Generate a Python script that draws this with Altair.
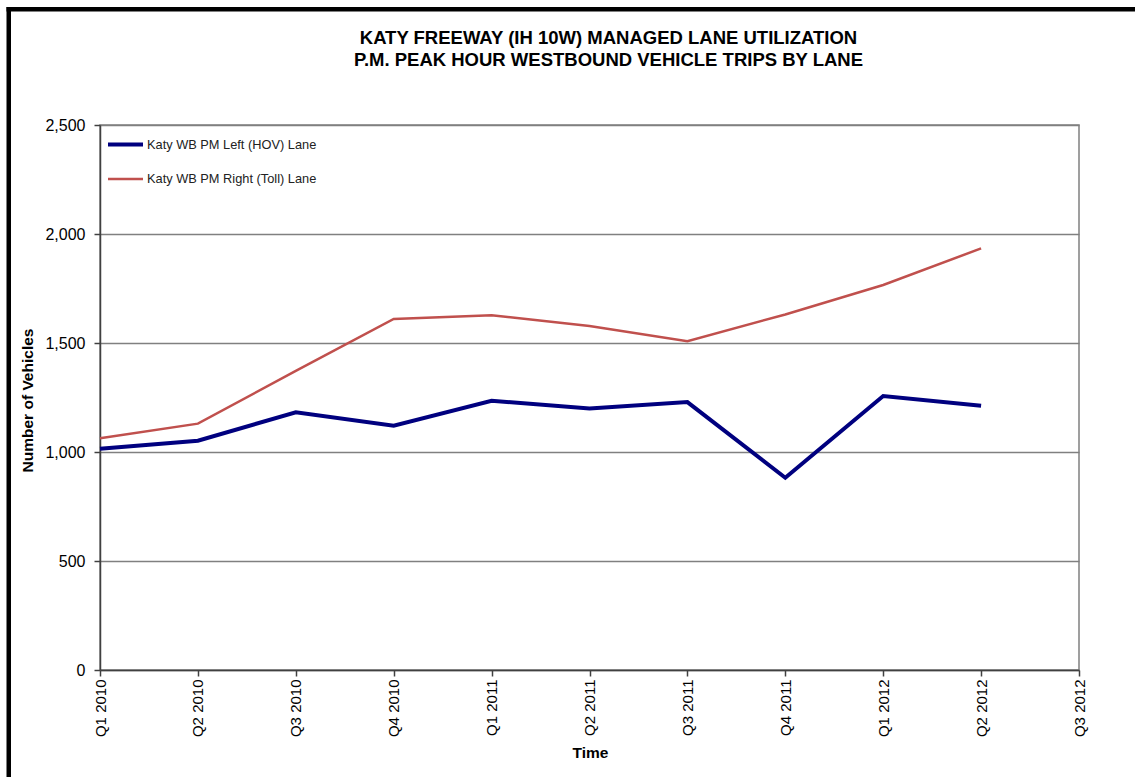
import altair as alt
import pandas as pd

# Quarterly P.M. peak-hour westbound trips on the Katy Freeway managed lanes
quarters = ["Q1 2010", "Q2 2010", "Q3 2010", "Q4 2010", "Q1 2011", "Q2 2011",
            "Q3 2011", "Q4 2011", "Q1 2012", "Q2 2012", "Q3 2012"]
data_quarters = quarters[:10]
hov_trips = [1015, 1052, 1182, 1121, 1235, 1200, 1229, 882, 1257, 1212]
toll_trips = [1063, 1130, 1372, 1610, 1627, 1578, 1508, 1631, 1766, 1934]

lane_hov = "Katy WB PM Left (HOV) Lane"
lane_toll = "Katy WB PM Right (Toll) Lane"
lanes = [lane_hov, lane_toll]
lane_colors = ["#00007f", "#c0504d"]
lane_widths = [4, 2.5]

df = pd.concat([
    pd.DataFrame({"quarter": data_quarters, "vehicles": hov_trips, "lane": lane_hov}),
    pd.DataFrame({"quarter": data_quarters, "vehicles": toll_trips, "lane": lane_toll}),
])

FONT = "Liberation Sans"

legend_opts = dict(title=None, orient="none", legendX=6, legendY=0,
                   symbolType="stroke", symbolSize=1225,
                   labelFontSize=12.8, labelFont=FONT, labelColor="#222",
                   labelOffset=2, labelLimit=400, rowPadding=7)

lines = alt.Chart(df).mark_line(strokeJoin="miter").encode(
    x=alt.X("quarter:N", sort=quarters,
            scale=alt.Scale(type="point", domain=quarters, padding=0),
            axis=alt.Axis(title="Time", labelAngle=270, labelAlign="right",
                          labelBaseline="middle", labelFontSize=15, labelPadding=3,
                          labelColor="#000", tickSize=6, tickColor="#404040",
                          domainColor="#404040", domainWidth=1.5, tickWidth=1.5,
                          titleFontSize=15.5, titleFontWeight="bold", titleColor="#000",
                          titleX=490, titleY=82, titleBaseline="middle",
                          labelFont=FONT, titleFont=FONT, grid=False)),
    y=alt.Y("vehicles:Q",
            scale=alt.Scale(domain=[0, 2500]),
            axis=alt.Axis(title="Number of Vehicles", values=[0, 500, 1000, 1500, 2000, 2500],
                          format=",.0f", labelFontSize=16, labelPadding=9, labelColor="#000",
                          tickSize=6, tickColor="#404040", tickWidth=1.5,
                          domainColor="#404040", domainWidth=1.5,
                          gridColor="#808080", gridWidth=1.5,
                          titleFontSize=15.5, titleFontWeight="bold", titleColor="#000",
                          titleAngle=270, titleX=-73, titleY=275, titleAlign="center",
                          titleBaseline="middle",
                          labelFont=FONT, titleFont=FONT)),
    color=alt.Color("lane:N", scale=alt.Scale(domain=lanes, range=lane_colors),
                    legend=alt.Legend(**legend_opts)),
    strokeWidth=alt.StrokeWidth("lane:N", scale=alt.Scale(domain=lanes, range=lane_widths),
                                legend=alt.Legend(**legend_opts)),
)

# Outer chart-area border (left and top edges)
one = alt.Data(values=[{"k": 1}])
frame_left = alt.Chart(one).mark_rule(color="#000", strokeWidth=4.5).encode(
    x=alt.value(-91.25), y=alt.value(-118), y2=alt.value(652))
frame_top = alt.Chart(one).mark_rule(color="#000", strokeWidth=4.5).encode(
    y=alt.value(-115.7), x=alt.value(-93.5), x2=alt.value(1035))

chart = alt.layer(lines, frame_left, frame_top).properties(
    width=979,
    height=545,
    autosize=alt.AutoSizeParams(type="none"),
    padding={"left": 100, "top": 125, "right": 56, "bottom": 107},
    background="white",
    title=alt.TitleParams(
        text=["KATY FREEWAY (IH 10W) MANAGED LANE UTILIZATION",
              "P.M. PEAK HOUR WESTBOUND VEHICLE TRIPS BY LANE"],
        fontSize=18.5, font=FONT, fontWeight="bold", color="#000",
        lineHeight=22, anchor="middle", frame="group", dx=19, offset=-65),
).configure_view(stroke="#808080", strokeWidth=1.5)

chart.save("out.html", embed_options={"renderer": "svg", "actions": False})
